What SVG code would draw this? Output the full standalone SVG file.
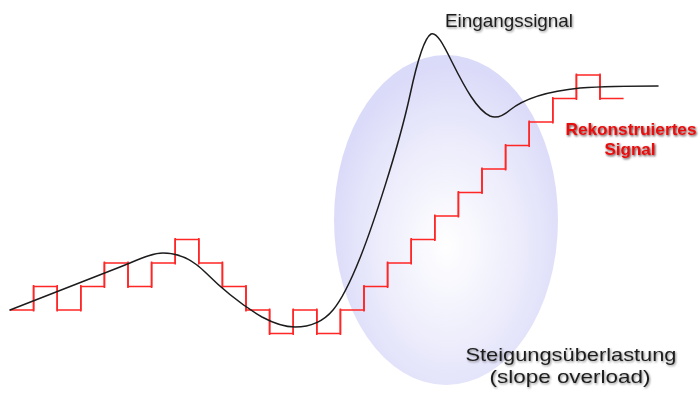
<svg xmlns="http://www.w3.org/2000/svg" width="700" height="395" viewBox="0 0 700 395">
  <defs>
    <radialGradient id="blob" cx="0.52" cy="0.57" r="0.55" fx="0.5" fy="0.58">
      <stop offset="0" stop-color="#ffffff"/>
      <stop offset="0.55" stop-color="#ededfc"/>
      <stop offset="1" stop-color="#dadaf9"/>
    </radialGradient>
    <filter id="shadow" x="-10%" y="-30%" width="120%" height="160%">
      <feDropShadow dx="1" dy="1.2" stdDeviation="0.9" flood-color="#000000" flood-opacity="0.45"/>
    </filter>
    <filter id="shadowRed" x="-10%" y="-30%" width="120%" height="160%">
      <feDropShadow dx="1" dy="1.2" stdDeviation="0.8" flood-color="#200000" flood-opacity="0.75"/>
    </filter>
  </defs>
  <style>
    .lbl { font-family: "Liberation Sans", Arial, sans-serif; font-size: 19px; fill: #1e1e1e; }
    .red { font-family: "Liberation Sans", Arial, sans-serif; font-size: 17px; font-weight: bold; fill: #e81010; }
    .input { fill: none; stroke: #1c1c1c; stroke-width: 1.5; stroke-linejoin: round; stroke-linecap: round; }
    .stair { fill: none; stroke: #ff2626; stroke-width: 1.6; }
  </style>
  <rect width="700" height="395" fill="#ffffff"/>

  <g id="overload-region">
    <ellipse cx="446" cy="220" rx="112" ry="165" fill="url(#blob)"/>
  </g>

  <g id="reconstructed-signal">
    <path class="stair" d="M10,310 H33.6 V286.5 H57.2 V310 H80.8 V286.5 H104.4 V263 H128 V286.5 H151.6 V263 H175.2 V239.5 H198.8 V263 H222.4 V286.5 H246 V310 H269.6 V333.5 H293.2 V310 H316.8 V333.5 H340.4 V310 H364 V286.5 H387.6 V263 H411.2 V239.5 H434.8 V216 H458.4 V192.5 H482 V169 H505.6 V145.5 H529.2 V122 H552.8 V98.5 H576.4 V75 H600 V98.5 H623.6"/>
    <path class="stair" d="M33.6,285 V311.5 M57.2,285 V311.5 M80.8,285 V311.5 M104.4,261.5 V288 M128,261.5 V288 M151.6,261.5 V288 M175.2,238 V264.5 M198.8,238 V264.5 M222.4,261.5 V288 M246,285 V311.5 M269.6,308.5 V335 M293.2,308.5 V335 M316.8,308.5 V335 M340.4,308.5 V335 M364,285 V311.5 M387.6,261.5 V288 M411.2,238 V264.5 M434.8,214.5 V241 M458.4,191 V217.5 M482,167.5 V194 M505.6,144 V170.5 M529.2,120.5 V147 M552.8,97 V123.5 M576.4,73.5 V100 M600,73.5 V100"/>
  </g>

  <g id="input-signal">
    <path class="input" d="M10,310 L120,267 C140,259 152,253 163,253 C180,253 193,260 205,272 C220,287 240,304 262,317 C275,324 284,327 295,327 C310,327 323,322 333,310 C343,298 352,278 360,258 C372,228 398,150 410,95 C416,67 424,38 431,34 C437,31 445,48 452,62 C465,88 477,110 490,116 C497,119 503,116 510,110 C525,98 550,91 580,88 C610,86 630,86 658,86"/>
  </g>

  <g id="labels">
    <text class="lbl" x="509" y="27" text-anchor="middle" filter="url(#shadow)" textLength="128" lengthAdjust="spacingAndGlyphs">Eingangssignal</text>
    <text class="red" x="631" y="135" text-anchor="middle" filter="url(#shadowRed)" textLength="131" lengthAdjust="spacingAndGlyphs">Rekonstruiertes</text>
    <text class="red" x="630" y="155" text-anchor="middle" filter="url(#shadowRed)">Signal</text>
    <text class="lbl" x="571" y="361" text-anchor="middle" filter="url(#shadow)" textLength="211" lengthAdjust="spacingAndGlyphs">Steigungsüberlastung</text>
    <text class="lbl" x="570" y="383" text-anchor="middle" filter="url(#shadow)" textLength="161" lengthAdjust="spacingAndGlyphs">(slope overload)</text>
  </g>
</svg>
